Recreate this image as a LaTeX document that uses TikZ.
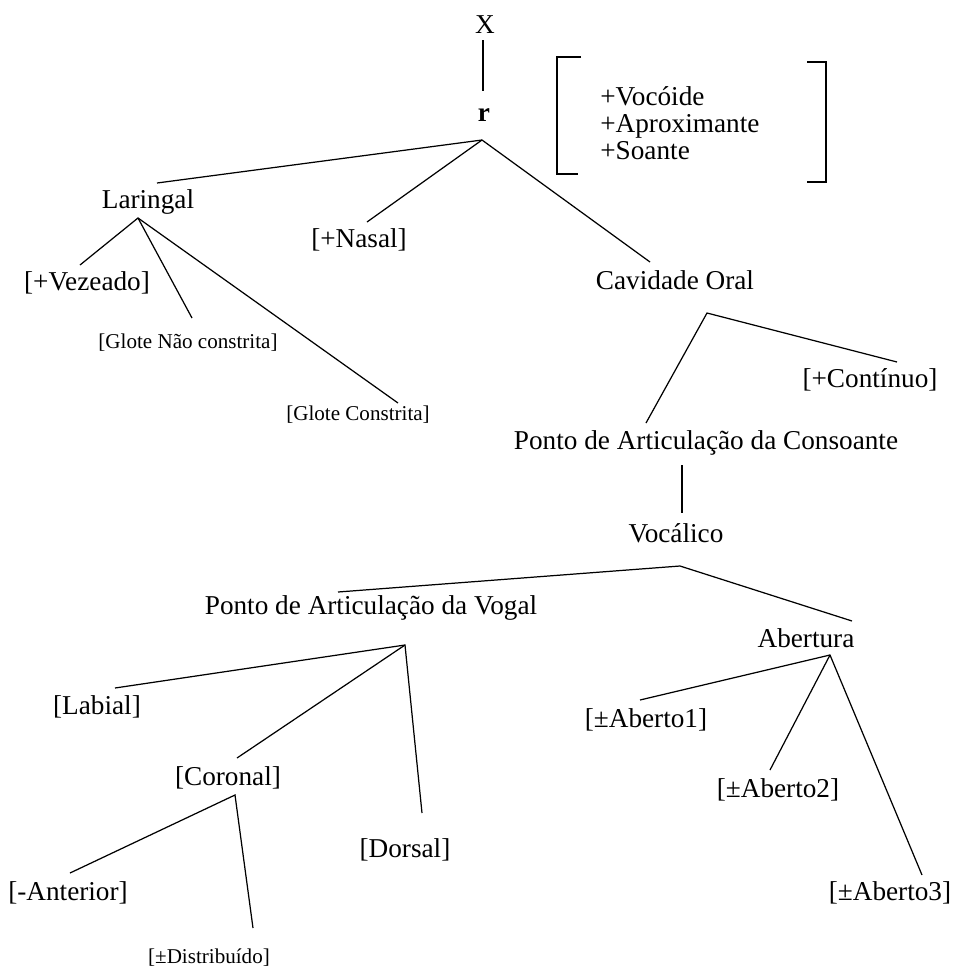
\documentclass[tikz,border=0pt]{standalone}
\usepackage{fontspec}
\setmainfont{Liberation Serif}

\tikzset{
  bigtxt/.style={font=\fontsize{15.5}{18}\selectfont, inner sep=0pt},
  smalltxt/.style={font=\fontsize{12}{14}\selectfont, inner sep=0pt},
  branchline/.style={line width=0.7pt},
  bracketline/.style={line width=1.2pt}
}

\begin{document}
\begin{tikzpicture}[x=0.02cm, y=-0.02cm]
				\useasboundingbox (0,0) rectangle (954,968);

				% Root
				\node[bigtxt] (X) at (485,25) {X};
				\node[bigtxt] (r) at (484,115) {\textbf{r}};
				\node[bigtxt, anchor=west, align=left, font=\fontsize{15.5}{15.3}\selectfont] (feat) at (600,123)
					{+Vocóide\\+Aproximante\\+Soante};
				\draw[bracketline] (581,57) -- (557,57) -- (557,174) -- (578,174);
				\draw[bracketline] (807,62) -- (826,62) -- (826,182) -- (807,182);

				% Laringal
				\node[bigtxt] (lar) at (148,202) {Laringal};
				\node[bigtxt] (vez) at (87,283) {[+Vezeado]};
				\node[smalltxt] (gnc) at (188,343) {[Glote Não constrita]};
				\node[smalltxt] (gc) at (358,415) {[Glote Constrita]};
				\node[bigtxt] (nas) at (359,240) {[+Nasal]};

				% Cavidade Oral
				\node[bigtxt] (cav) at (675,280) {Cavidade Oral};
				\node[bigtxt] (cont) at (870,380) {[+Contínuo]};
				\node[bigtxt] (pac) at (706,443) {Ponto de Articulação da Consoante};
				\node[bigtxt] (voc) at (676,533) {Vocálico};

				% Vocalico
				\node[bigtxt] (pav) at (371,608) {Ponto de Articulação da Vogal};
				\node[bigtxt] (abe) at (806,638) {Abertura};
				\node[bigtxt] (lab) at (97,707) {[Labial]};
				\node[bigtxt] (cor) at (228,778) {[Coronal]};
				\node[bigtxt] (dor) at (405,850) {[Dorsal]};
				\node[bigtxt] (ant) at (68,893) {[-Anterior]};
				\node[smalltxt] (dis) at (209,958) {[±Distribuído]};
				\node[bigtxt] (ab1) at (646,720) {[±Aberto1]};
				\node[bigtxt] (ab2) at (778,790) {[±Aberto2]};
				\node[bigtxt] (ab3) at (890,893) {[±Aberto3]};

				% branch points
				\coordinate (X-foot) at (483,40);
				\coordinate (r-head) at (483,91);
				\coordinate (r-foot) at (482,140);
				\coordinate (lar-head) at (157,183);
				\coordinate (nas-head) at (367,222);
				\coordinate (cav-head) at (650,262);
				\coordinate (lar-foot) at (138,218);
				\coordinate (vez-head) at (80,265);
				\coordinate (gnc-head) at (192,318);
				\coordinate (gc-head) at (398,403);
				\coordinate (cav-foot) at (707,313);
				\coordinate (cont-head) at (897,362);
				\coordinate (pac-head) at (646,423);
				\coordinate (pac-foot) at (682,465);
				\coordinate (voc-head) at (682,513);
				\coordinate (voc-foot) at (680,566);
				\coordinate (pav-head) at (338,592);
				\coordinate (abe-head) at (852,621);
				\coordinate (pav-foot) at (405,645);
				\coordinate (lab-head) at (115,688);
				\coordinate (cor-head) at (237,758);
				\coordinate (dor-head) at (422,813);
				\coordinate (cor-foot) at (235,795);
				\coordinate (ant-head) at (70,873);
				\coordinate (dis-head) at (253,928);
				\coordinate (abe-foot) at (830,655);
				\coordinate (ab1-head) at (640,700);
				\coordinate (ab2-head) at (770,770);
				\coordinate (ab3-head) at (922,875);

				% Branches
				\draw[branchline] (X-foot) -- (r-head);
				\draw[branchline] (lar-head) -- (r-foot) -- (cav-head);
				\draw[branchline] (r-foot) -- (nas-head);
				\draw[branchline] (vez-head) -- (lar-foot) -- (gc-head);
				\draw[branchline] (lar-foot) -- (gnc-head);
				\draw[branchline] (pac-head) -- (cav-foot) -- (cont-head);
				\draw[branchline] (pac-foot) -- (voc-head);
				\draw[branchline] (pav-head) -- (voc-foot) -- (abe-head);
				\draw[branchline] (lab-head) -- (pav-foot) -- (dor-head);
				\draw[branchline] (pav-foot) -- (cor-head);
				\draw[branchline] (ant-head) -- (cor-foot) -- (dis-head);
				\draw[branchline] (ab1-head) -- (abe-foot) -- (ab3-head);
				\draw[branchline] (abe-foot) -- (ab2-head);
			\end{tikzpicture}
\end{document}
